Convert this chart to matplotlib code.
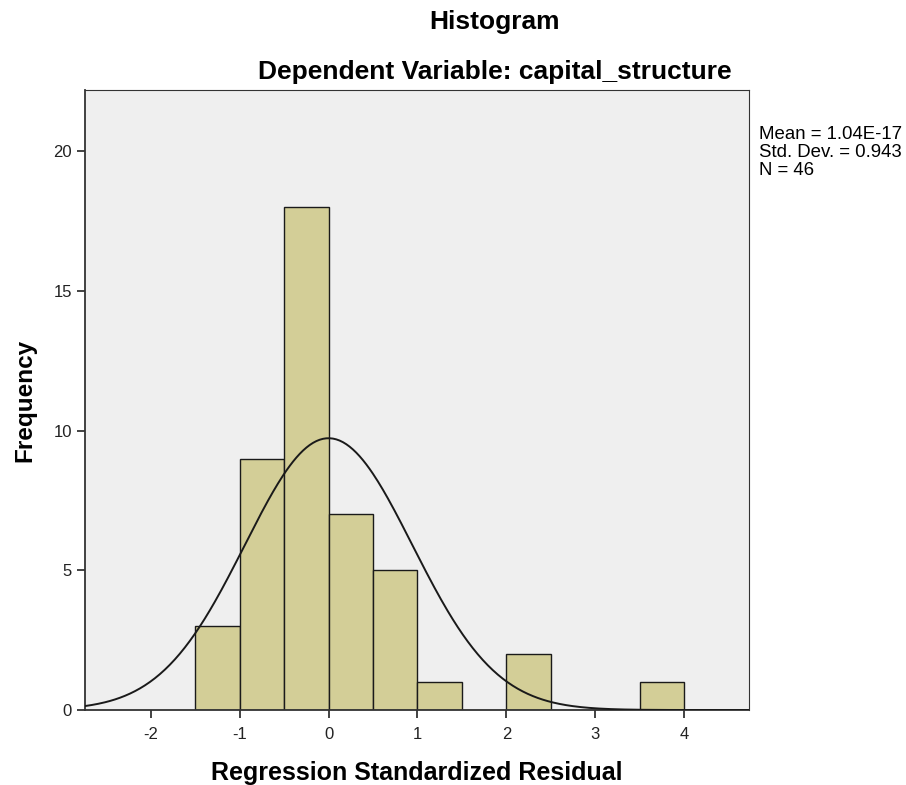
import numpy as np
import matplotlib.pyplot as plt

# ---------------------------------------
# Data
# ---------------------------------------

bin_edges = [-1.5, -1.0, -0.5, 0.0, 0.5, 1.0, 1.5, 2.0, 2.5, 3.0, 3.5, 4.0]
counts = [3, 9, 18, 7, 5, 1, 0, 2, 0, 0, 1]

mean = 1.04e-17
std_dev = 0.943
n_obs = 46

x_ticks = [-2, -1, 0, 1, 2, 3, 4]
y_ticks = [0, 5, 10, 15, 20]

plt.rcParams["font.family"] = ["Liberation Sans", "DejaVu Sans"]
plt.rcParams["axes.unicode_minus"] = False

fig = plt.figure(figsize=(9.06, 7.85), dpi=100)
ax = fig.add_axes([0.0938, 0.0955, 0.733, 0.790])
ax.set_facecolor("#efefef")

# bars
widths = np.diff(bin_edges)
ax.bar(bin_edges[:-1], counts, width=widths, align="edge",
       color="#d3ce97", edgecolor="#1a1a1a", linewidth=1.0, zorder=2)

# normal curve scaled to counts
xs = np.linspace(-2.74, 4.73, 400)
bin_w = widths[0]
ys = n_obs * bin_w / (std_dev * np.sqrt(2 * np.pi)) * np.exp(-0.5 * ((xs - mean) / std_dev) ** 2)
ax.plot(xs, ys, color="#1a1a1a", linewidth=1.4, zorder=3)

ax.set_xlim(-2.74, 4.73)
ax.set_ylim(0, 22.2)
ax.set_xticks(x_ticks)
ax.set_yticks(y_ticks)
ax.tick_params(axis="both", labelsize=12, colors="#222222", length=6, width=1.2)
ax.tick_params(axis="x", pad=6)

for side in ["left", "bottom", "top", "right"]:
    ax.spines[side].set_color("#333333")
ax.spines["left"].set_linewidth(1.3)
ax.spines["bottom"].set_linewidth(1.3)
ax.spines["top"].set_linewidth(0.8)
ax.spines["right"].set_linewidth(0.8)

ax.set_xlabel("Regression Standardized Residual", fontsize=18, fontweight="bold", labelpad=14)
ax.set_ylabel("Frequency", fontsize=17.5, fontweight="bold", labelpad=12)

fig.text(0.546, 0.987, "Histogram", ha="center", va="top", fontsize=19, fontweight="bold")
fig.text(0.546, 0.923, "Dependent Variable: capital_structure", ha="center", va="top",
         fontsize=19, fontweight="bold")

fig.text(0.838, 0.840,
         f"Mean = 1.04E-17\nStd. Dev. = {std_dev}\nN = {n_obs}",
         ha="left", va="top", fontsize=13.4, linespacing=1.1)

plt.savefig("out.png", dpi=100)
plt.close()
